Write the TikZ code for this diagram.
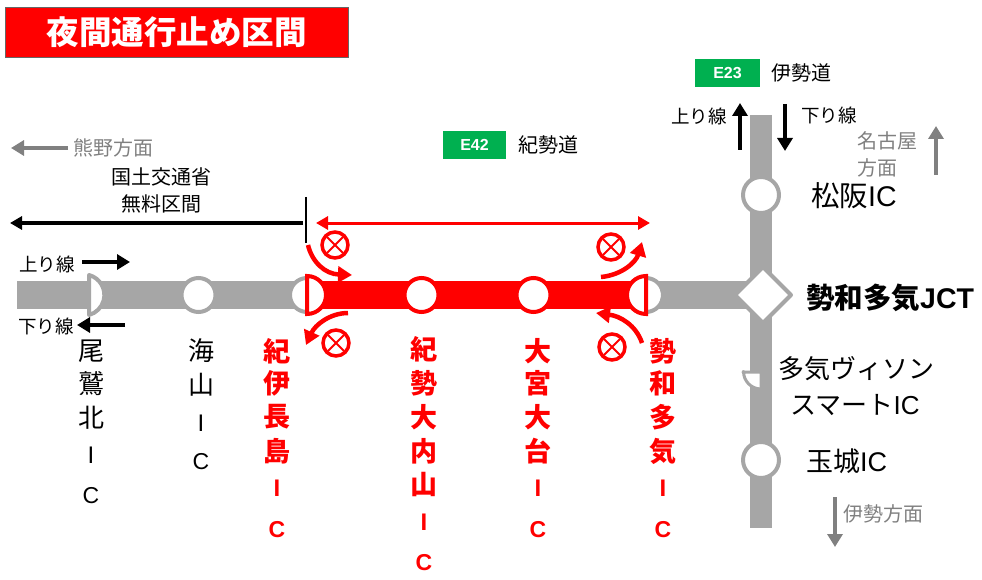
\documentclass[tikz,border=0pt]{standalone}
\usepackage{fontspec}
\setmainfont{Noto Sans CJK JP}
\newfontfamily\latinf{Liberation Sans}
\usetikzlibrary{arrows.meta}
\definecolor{rd}{RGB}{255,0,0}
\definecolor{gy}{RGB}{166,166,166}
\definecolor{gt}{RGB}{128,128,128}
\definecolor{gn}{RGB}{0,176,80}
\tikzset{
 road/.style={line width=28pt,draw=gy,line cap=butt},
 icg/.style={circle,draw=gy,fill=white,line width=4pt,minimum size=34pt,inner sep=0},
 icr/.style={circle,draw=rd,fill=white,line width=4pt,minimum size=34pt,inner sep=0},
 lbl/.style={inner sep=0,font=\fontsize{20pt}{20pt}\selectfont},
 dirl/.style={inner sep=0,font=\fontsize{18.5pt}{18.5pt}\selectfont},
 big/.style={inner sep=0,font=\fontsize{26pt}{26pt}\selectfont},
 vk/.style={inner sep=0,font=\fontsize{26pt}{26pt}\selectfont},
 vr/.style={vk,text=rd,font=\fontsize{27pt}{27pt}\selectfont\bfseries},
 badge/.style={fill=gn,text=white,inner sep=0,minimum width=65pt,minimum height=28pt,font=\latinf\bfseries\fontsize{16pt}{16pt}\selectfont},
 blk/.style={line width=4.5pt,-{Triangle[length=13pt,width=15pt]}},
 gar/.style={line width=4.5pt,draw=gt,-{Triangle[length=13pt,width=15pt]}},
 rarc/.style={line width=4.5pt,draw=rd,-{Triangle[length=14pt,width=16pt]}},
 ban/.style={circle,draw=rd,line width=3.5pt,minimum size=26pt,inner sep=0,fill=white},
}
\newcommand{\bann}[3]{\node[ban] (#1) at (#2,#3) {};
 \draw[rd,line width=2pt] (#2-8,#3-8) -- (#2+8,#3+8) (#2-8,#3+8) -- (#2+8,#3-8);}
\begin{document}
\begin{tikzpicture}[x=1pt,y=-1pt]
\useasboundingbox (0,0) rectangle (982,580);
% banner
\node[fill=rd,draw=black!60,line width=.5pt,minimum width=343pt,minimum height=50pt,inner sep=0,text=white,font=\fontsize{32.5pt}{32.5pt}\selectfont\bfseries] (banner) at (176.5,32) {夜間通行止め区間};
\node[badge] (e23) at (727.5,73) {E23};
\node[lbl,anchor=west] (ise) at (771,73) {伊勢道};
\node[badge,minimum width=63pt] (e42) at (474.5,145) {E42};
\node[lbl,anchor=west] (kisei) at (518,145) {紀勢道};
% roads
\coordinate (rw) at (17,295); \coordinate (re) at (761,295);
\coordinate (vt) at (761,115); \coordinate (vb) at (761,528);
\coordinate (ra) at (310,295); \coordinate (rb) at (640,295);
\draw[road] (rw) -- (re);
\draw[road,line width=22pt] (vt) -- (vb);
\draw[road,draw=rd] (ra) -- (rb);
% half IC west
\draw[draw=gy,fill=white,line width=4pt,line join=round] (89,275) arc[start angle=75,end angle=-75,radius=20.7pt] -- cycle;
% regular ICs
\node[icg] (umi) at (198.5,295) {};
\node[icr] (ouchi) at (421.5,295) {};
\node[icr] (omiya) at (533.5,295) {};
\node[icg,minimum size=36pt] (matsu) at (761,195) {};
\node[icg,minimum size=36pt] (tama) at (761,460) {};
% kii-nagashima
\node[circle,fill=white,minimum size=34pt,inner sep=0] (nag) at (308,295) {};
\draw[gy,line width=4pt] (307,278) arc[start angle=90,end angle=270,radius=17pt];
\draw[rd,line width=4pt,line join=miter] (307,276) arc[start angle=90,end angle=-90,radius=19pt] -- cycle;
% seiwa-taki
\node[circle,fill=white,minimum size=34pt,inner sep=0] (sei) at (644,295) {};
\draw[gy,line width=4pt] (646,278) arc[start angle=90,end angle=-90,radius=17pt];
\draw[rd,line width=4pt,line join=miter] (646,276) arc[start angle=90,end angle=270,radius=19pt] -- cycle;
% diamond
\draw[gy,fill=white,line width=4pt,line join=round] (763,267) coordinate (dt) -- (791,295) -- (763,323) -- (735,295) -- cycle;
% smart IC
\draw[gy,fill=white,line width=3pt,line join=round] (743,372) -- (761,372) -- (761,389) arc[start angle=270,end angle=180,radius=17.5pt] -- cycle;
% lines over
\coordinate (b1) at (303,223); \coordinate (b2) at (10,223);
\draw[black,line width=3.5pt,-{Triangle[length=12pt,width=13pt]}] (b1) -- (b2);
\coordinate (v1) at (306,197); \coordinate (v2) at (306,243);
\draw[black,line width=1.8pt] (v1) -- (v2);
\coordinate (r1) at (316,223); \coordinate (r2) at (650,223);
\draw[rd,line width=3pt,{Triangle[length=12pt,width=13pt]}-{Triangle[length=12pt,width=13pt]}] (r1) -- (r2);
% curved arrows
\coordinate (c1a) at (308,245); \coordinate (c1b) at (352,275);
\draw[rarc] (c1a) .. controls (312,262) and (325,274) .. (c1b);
\coordinate (c2a) at (348,313); \coordinate (c2b) at (306,345);
\draw[rarc] (c2a) .. controls (330,313) and (315,325) .. (c2b);
\coordinate (c3a) at (601,277); \coordinate (c3b) at (642,242);
\draw[rarc] (c3a) .. controls (622,275) and (636,262) .. (c3b);
\coordinate (c4a) at (642,343); \coordinate (c4b) at (596,313);
\draw[rarc] (c4a) .. controls (636,325) and (620,316) .. (c4b);
\bann{s1}{335}{245}
\bann{s2}{611}{247}
\bann{s3}{336}{343}
\bann{s4}{612}{347}
% small direction arrows
\node[dirl,anchor=west] (u1) at (19,264) {上り線};
\coordinate (ua) at (82,262); \coordinate (ub) at (130,262);
\draw[black,blk] (ua) -- (ub);
\node[dirl,anchor=west] (d1) at (18,326) {下り線};
\coordinate (da) at (125,325); \coordinate (db) at (77,325);
\draw[black,blk] (da) -- (db);
\node[lbl,text=gt,anchor=west] (kuma) at (73,148) {熊野方面};
\coordinate (ka) at (68,148); \coordinate (kb) at (11,148);
\draw[gar] (ka) -- (kb);
\node[lbl,align=center] (n1) at (161,177) {国土交通省};
\node[lbl] (n2) at (161,204) {無料区間};
\node[dirl,anchor=west] (u2) at (671,116) {上り線};
\coordinate (ea) at (740,150); \coordinate (eb) at (740,103);
\draw[black,blk] (ea) -- (eb);
\node[dirl,anchor=west] (d2) at (801,115) {下り線};
\coordinate (fa) at (785,104); \coordinate (fb) at (785,151);
\draw[black,blk] (fa) -- (fb);
\node[lbl,text=gt] (nago) at (887,141) {名古屋};
\node[lbl,text=gt] (hou) at (877,168) {方面};
\coordinate (ga) at (936,175); \coordinate (gb) at (936,126);
\draw[gar] (ga) -- (gb);
\node[lbl,text=gt,anchor=west] (isem) at (843,514) {伊勢方面};
\coordinate (ha) at (835,497); \coordinate (hb) at (835,547);
\draw[gar] (ha) -- (hb);
% right labels
\node[big,anchor=west,font=\fontsize{28.5pt}{28.5pt}\selectfont] (l1) at (811,196) {松阪\latinf IC};
\node[big,anchor=west,font=\fontsize{28.5pt}{28.5pt}\selectfont\bfseries] (l2) at (806,298) {勢和多気\latinf JCT};
\node[big,anchor=center] (l3) at (856,369) {多気ヴィソン};
\node[big,anchor=center] (l4) at (855,405) {スマート\latinf IC};
\node[big,anchor=west,font=\fontsize{27pt}{27pt}\selectfont] (l5) at (806,461) {玉城\latinf IC};
% vertical labels
\newcommand{\blkI}{\latinf\fontsize{24pt}{24pt}\selectfont}
\newcommand{\blkC}{\latinf\fontsize{23pt}{23pt}\selectfont}
\node[vk] (a1) at (91,351) {尾}; \node[vk] (a2) at (91,384) {鷲}; \node[vk] (a3) at (91,418) {北};
\node[vk,font=\blkI] (a4) at (91,455) {I}; \node[vk,font=\blkC] (a5) at (91,496) {C};
\node[vk] (b4) at (201,351) {海}; \node[vk] (b5) at (201,385) {山};
\node[vk,font=\blkI] (b6) at (201,423) {I}; \node[vk,font=\blkC] (b7) at (201,462) {C};
\newcommand{\redI}{\latinf\bfseries\fontsize{24pt}{24pt}\selectfont}
\newcommand{\redC}{\latinf\bfseries\fontsize{23pt}{23pt}\selectfont}
\node[vr] (e1) at (277,351) {紀}; \node[vr] (e2) at (277,383) {伊}; \node[vr] (e3) at (277,417) {長}; \node[vr] (e4) at (277,451) {島};
\node[vr,font=\redI] (e5) at (277,488) {I}; \node[vr,font=\redC] (e6) at (277,530) {C};
\node[vr] (f1) at (424,349) {紀}; \node[vr] (f2) at (424,383) {勢}; \node[vr] (f3) at (424,417) {大}; \node[vr] (f4) at (424,451) {内}; \node[vr] (f5) at (424,485) {山};
\node[vr,font=\redI] (f6) at (424,522) {I}; \node[vr,font=\redC] (f7) at (424,563) {C};
\node[vr] (g1) at (538,351) {大}; \node[vr] (g2) at (538,383) {宮}; \node[vr] (g3) at (538,417) {大}; \node[vr] (g4) at (538,451) {台};
\node[vr,font=\redI] (g5) at (538,488) {I}; \node[vr,font=\redC] (g6) at (538,530) {C};
\node[vr] (h1) at (663,351) {勢}; \node[vr] (h2) at (663,383) {和}; \node[vr] (h3) at (663,417) {多}; \node[vr] (h4) at (663,451) {気};
\node[vr,font=\redI] (h5) at (663,488) {I}; \node[vr,font=\redC] (h6) at (663,530) {C};
\end{tikzpicture}
\end{document}
